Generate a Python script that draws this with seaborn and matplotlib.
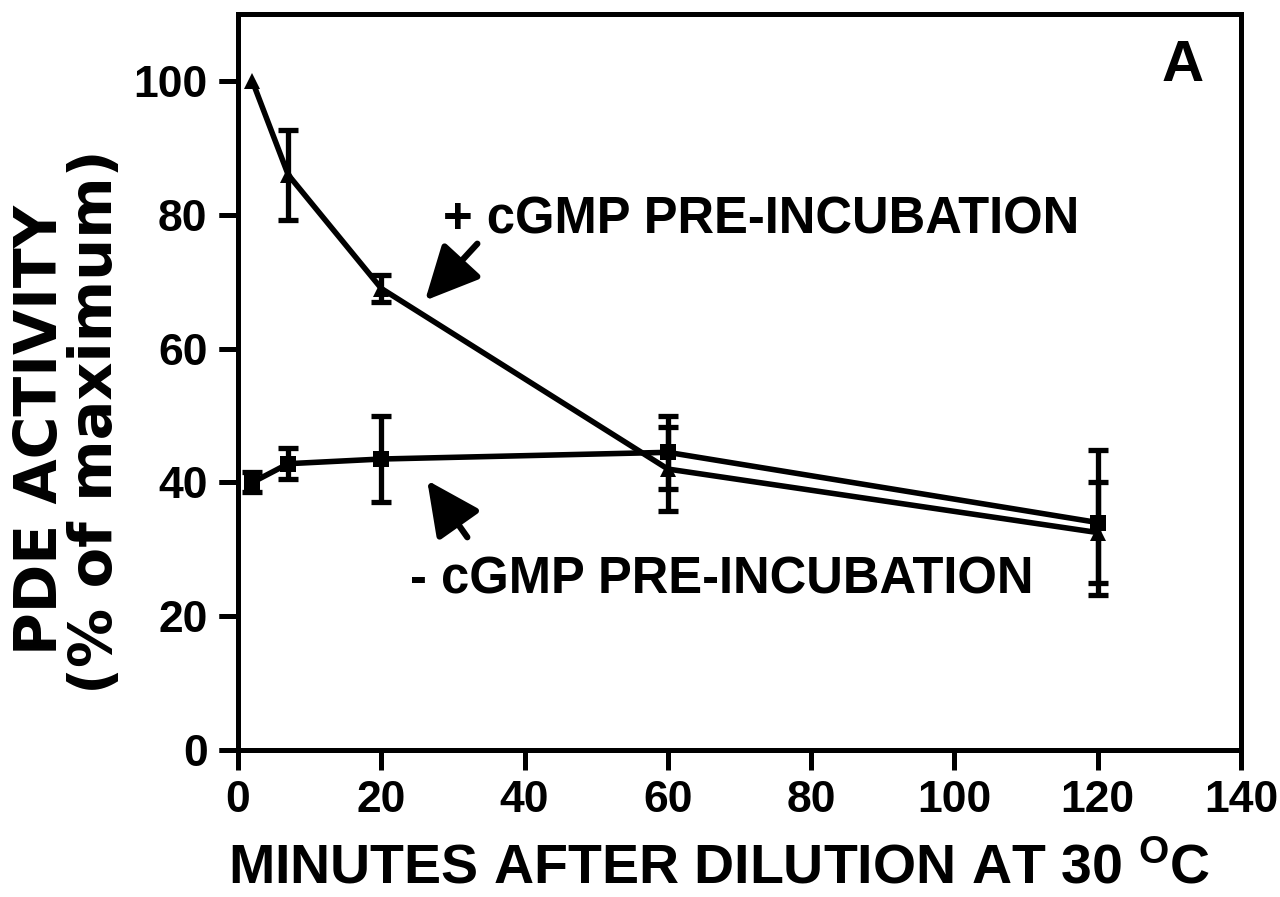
import matplotlib
matplotlib.use("Agg")
import matplotlib.pyplot as plt
import seaborn as sns
import pandas as pd

# data
minutes = [2, 7, 20, 60, 120]
plus_cgmp = [100, 86, 69, 42, 32.5]
plus_err = [0, 6.7, 2.0, 6.3, 7.5]
minus_cgmp = [40, 42.8, 43.5, 44.5, 34]
minus_err = [1.5, 2.3, 6.5, 5.5, 10.8]

x_ticks = [0, 20, 40, 60, 80, 100, 120, 140]
y_ticks = [0, 20, 40, 60, 80, 100]

sns.set_theme(style="ticks")
plt.rcParams['font.family'] = ['Liberation Sans', 'DejaVu Sans']
plt.rcParams['font.weight'] = 'bold'
plt.rcParams['text.color'] = 'black'
plt.rcParams['axes.labelcolor'] = 'black'
plt.rcParams['xtick.color'] = 'black'
plt.rcParams['ytick.color'] = 'black'
plt.rcParams['mathtext.fontset'] = 'custom'
plt.rcParams['mathtext.rm'] = 'Liberation Sans:bold'
plt.rcParams['mathtext.it'] = 'Liberation Sans:bold'
plt.rcParams['mathtext.bf'] = 'Liberation Sans:bold'

fig = plt.figure(figsize=(12.8, 8.97), dpi=100)
ax = fig.add_axes([0.186, 0.164, 0.7835, 0.82])

df = pd.DataFrame({
    "minutes": minutes + minutes,
    "activity": plus_cgmp + minus_cgmp,
    "series": ["+"] * len(minutes) + ["-"] * len(minutes),
})

sns.lineplot(data=df, x="minutes", y="activity", hue="series", style="series",
             markers={"+": "^", "-": "s"}, dashes=False,
             palette={"+": "black", "-": "black"}, lw=4.0, markersize=11,
             markeredgewidth=0, legend=False, ax=ax)

for ys, es in ((plus_cgmp, plus_err), (minus_cgmp, minus_err)):
    xs = [m for m, e in zip(minutes, es) if e > 0]
    yv = [v for v, e in zip(ys, es) if e > 0]
    ev = [e for e in es if e > 0]
    ax.errorbar(xs, yv, yerr=ev, fmt="none", ecolor="black",
                elinewidth=3.8, capsize=7, capthick=3.8)

ax.set_xlim(0, 140)
ax.set_ylim(0, 110)
ax.set_xticks(x_ticks)
ax.set_yticks(y_ticks)
ax.tick_params(axis="both", which="major", direction="out", length=14,
               width=3.6, labelsize=32, pad=8, color="black",
               labelcolor="black")
for sp in ax.spines.values():
    sp.set_linewidth(3.6)
    sp.set_color("black")

# outward tick marks drawn as short line segments at the tick positions
ax.vlines(x_ticks, -0.027, 0, transform=ax.get_xaxis_transform(),
          clip_on=False, lw=3.6, color="black", zorder=5)
ax.hlines(y_ticks, -0.0195, 0, transform=ax.get_yaxis_transform(),
          clip_on=False, lw=3.6, color="black", zorder=5)

ax.set_xlabel(r"MINUTES AFTER DILUTION AT 30 $^{\mathrm{O}}$C", fontsize=40,
              fontweight="bold")
ax.xaxis.set_label_coords(0.4796, -0.127)
ax.set_ylabel("")
fig.text(0.032, 0.5206, "PDE ACTIVITY", fontsize=42, fontweight="bold",
         family="DejaVu Sans", rotation=90, ha="center", va="center",
         rotation_mode="anchor")
fig.text(0.075, 0.5295, "(% of maximum)", fontsize=42.5, fontweight="bold",
         family="DejaVu Sans", rotation=90, ha="center", va="center",
         rotation_mode="anchor")

ax.text(28.6, 77.2, "+ cGMP PRE-INCUBATION", fontsize=36.5, fontweight="bold",
        ha="left", va="baseline")
ax.text(24.0, 23.4, "- cGMP PRE-INCUBATION", fontsize=36.5, fontweight="bold",
        ha="left", va="baseline")
ax.text(131.8, 100.1, "A", fontsize=42, fontweight="bold", ha="center",
        va="baseline")

arrow_kw = dict(arrowstyle="-|>,head_length=3.3,head_width=1.6", color="black",
                lw=4.5, mutation_scale=10, shrinkA=0, shrinkB=0)
ax.annotate("", xy=(26.1, 67.2), xytext=(33.4, 75.7), arrowprops=arrow_kw)
ax.annotate("", xy=(26.4, 40.3), xytext=(32.0, 31.8), arrowprops=arrow_kw)

fig.savefig("out.png", dpi=100)
